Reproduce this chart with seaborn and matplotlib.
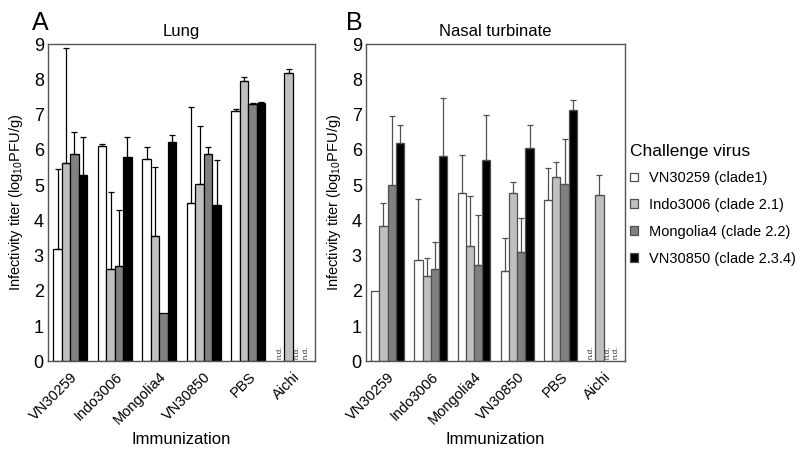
import numpy as np
import pandas as pd
import matplotlib.pyplot as plt
import seaborn as sns

# Immunization groups (x axis) and challenge viruses (hue)
groups = ["VN30259", "Indo3006", "Mongolia4", "VN30850", "PBS", "Aichi"]
viruses = ["VN30259 (clade1)", "Indo3006 (clade 2.1)",
           "Mongolia4 (clade 2.2)", "VN30850 (clade 2.3.4)"]
colors = ["#ffffff", "#c0c0c0", "#808080", "#000000"]

nd = np.nan  # n.d. = not determined

# rows follow groups, columns follow viruses
lung_mean = [[3.20, 5.62, 5.88, 5.29],
             [6.10, 2.63, 2.70, 5.81],
             [5.73, 3.56, 1.37, 6.21],
             [4.49, 5.03, 5.88, 4.43],
             [7.10, 7.95, 7.30, 7.33],
             [nd, 8.17, nd, nd]]
lung_err = [[2.25, 3.28, 0.62, 1.08],
            [0.08, 2.17, 1.58, 0.56],
            [0.34, 1.94, 0.00, 0.22],
            [2.72, 1.66, 0.19, 1.27],
            [0.05, 0.12, 0.03, 0.04],
            [nd, 0.13, nd, nd]]

nasal_mean = [[2.00, 3.85, 5.00, 6.20],
              [2.87, 2.42, 2.62, 5.82],
              [4.77, 3.26, 2.72, 5.70],
              [2.55, 4.77, 3.10, 6.04],
              [4.58, 5.23, 5.04, 7.14],
              [nd, 4.72, nd, nd]]
nasal_err = [[0.00, 0.65, 1.95, 0.50],
             [1.73, 0.51, 0.76, 1.64],
             [1.08, 1.42, 1.44, 1.30],
             [0.96, 0.33, 0.96, 0.67],
             [0.91, 0.43, 1.27, 0.28],
             [nd, 0.57, nd, nd]]

FONT = ["Liberation Sans", "DejaVu Sans"]
BAR_WIDTH = 0.76


def to_long(mean, err):
    rows = []
    for i, g in enumerate(groups):
        for j, v in enumerate(viruses):
            rows.append({"immunization": g, "virus": v,
                         "titer": mean[i][j], "err": err[i][j]})
    return pd.DataFrame(rows)


def draw_panel(ax, mean, err, title, edge, show_legend=False):
    df = to_long(mean, err)
    sns.barplot(data=df, x="immunization", y="titer", hue="virus",
                order=groups, hue_order=viruses, palette=colors,
                width=BAR_WIDTH, saturation=1, errorbar=None,
                edgecolor=edge, linewidth=0.9, legend=show_legend, ax=ax)

    # upper-only error bars, matched to bars by their x position
    n = len(viruses)
    for container, v in zip(ax.containers, viruses):
        sub = df[df["virus"] == v].set_index("immunization")
        for bar in container:
            h = bar.get_height()
            if np.isnan(h):
                continue
            xc = bar.get_x() + bar.get_width() / 2
            g = groups[int(round(xc))]
            e = sub.loc[g, "err"]
            if e > 0:
                ax.errorbar(xc, h, yerr=[[0], [e]], fmt="none", ecolor=edge,
                            elinewidth=0.9, capsize=2.2, capthick=0.9)

    # n.d. labels where nothing was measured
    for i, g in enumerate(groups):
        for j, v in enumerate(viruses):
            if np.isnan(mean[i][j]):
                x = i + (j - (n - 1) / 2) * BAR_WIDTH / n
                ax.text(x, 0.07, "n.d.", rotation=90, ha="center", va="bottom",
                        fontsize=5.8, color="#333333", family=FONT)

    ax.set_xlim(-0.5, len(groups) - 0.5)
    ax.set_ylim(0, 9)
    ax.set_yticks(range(10))
    ax.set_yticklabels([str(k) for k in range(10)], fontsize=13, family=FONT)
    ax.set_xticks(range(len(groups)))
    ax.set_xticklabels(groups, rotation=45, ha="right",
                       rotation_mode="anchor", fontsize=10.5, family=FONT)
    ax.set_xticks(np.arange(-0.5, len(groups)), minor=True)
    ax.tick_params(axis="x", which="major", length=0, pad=6)
    ax.tick_params(axis="x", which="minor", length=3, direction="in",
                   color="#888888")
    ax.tick_params(axis="y", length=0, pad=3)
    ax.set_title(title, fontsize=12, family=FONT, pad=6)
    ax.set_xlabel("Immunization", fontsize=12, family=FONT, labelpad=3)
    ax.set_ylabel("Infectivity titer (log$_{10}$PFU/g)", fontsize=10.5,
                  family=FONT, labelpad=6)
    for s in ax.spines.values():
        s.set_visible(True)
        s.set_color("#555555")
        s.set_linewidth(1.0)


sns.set_theme(style="white")
plt.rcParams["font.family"] = FONT
plt.rcParams["text.color"] = "black"
plt.rcParams["axes.labelcolor"] = "black"
plt.rcParams["xtick.color"] = "black"
plt.rcParams["ytick.color"] = "black"
plt.rcParams["mathtext.fontset"] = "custom"
plt.rcParams["mathtext.rm"] = "Liberation Sans"
plt.rcParams["mathtext.it"] = "Liberation Sans:italic"

fig = plt.figure(figsize=(8, 4.55), dpi=100)
ax1 = fig.add_axes([0.060, 0.206, 0.334, 0.697])
ax2 = fig.add_axes([0.4575, 0.206, 0.324, 0.697])

draw_panel(ax1, lung_mean, lung_err, "Lung", "#000000")
draw_panel(ax2, nasal_mean, nasal_err, "Nasal turbinate", "#505050",
           show_legend=True)

sns.move_legend(ax2, loc="upper left", bbox_to_anchor=(1.0, 0.70),
                title="Challenge virus", frameon=False, fontsize=10.5,
                title_fontsize=12.5, alignment="left", handlelength=0.55,
                handleheight=0.55, handletextpad=0.8, labelspacing=0.88,
                borderaxespad=0.3, borderpad=0)
ax2.get_legend()._legend_box.sep = 9

fig.text(0.040, 0.975, "A", fontsize=18, va="top", ha="left", family=FONT)
fig.text(0.433, 0.975, "B", fontsize=18, va="top", ha="left", family=FONT)

fig.savefig("out.png", dpi=100)
